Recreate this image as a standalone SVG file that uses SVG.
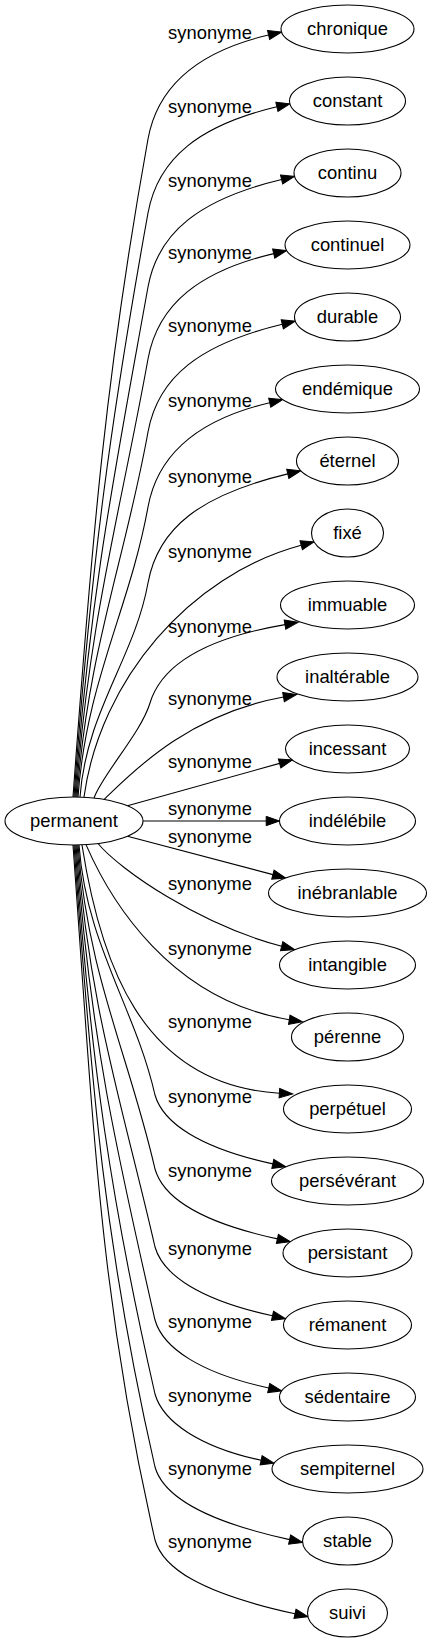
<svg xmlns="http://www.w3.org/2000/svg" width="432" height="1643" viewBox="0 0 432 1643">
<style>
text{font-family:"Liberation Sans",Arial,sans-serif;font-size:18.4px;fill:#000;text-anchor:middle}
.node ellipse{fill:#fff;stroke:#000;stroke-width:1.1}
.edge path{fill:none;stroke:#000;stroke-width:1.1;marker-end:url(#arrow)}
</style>
<defs>
<marker id="arrow" viewBox="0 -5 14 10" refX="0" refY="0" markerWidth="14" markerHeight="10" markerUnits="userSpaceOnUse" orient="auto" overflow="visible">
<path d="M0,-4.67 L13.3,0 L0,4.67 Z" fill="#000" stroke="#000" stroke-width="1"/>
</marker>
</defs>
<rect x="0" y="0" width="432" height="1643" fill="#fff"/>
<g id="edges">
<g class="edge" id="e-chronique"><path d="M73,797 C92.1,533.8 106.5,369.3 148,139 C158,84 200,51 268.6,35"/><text x="210" y="39">synonyme</text></g>
<g class="edge" id="e-constant"><path d="M74,797 C90.9,563.4 111.2,417.4 148,213 C158,158 200,125 276.9,106.8"/><text x="210" y="113">synonyme</text></g>
<g class="edge" id="e-continu"><path d="M75,797 C89.8,593 115.9,465.5 148,287 C158,232 200,199 281.6,179.5"/><text x="210" y="187">synonyme</text></g>
<g class="edge" id="e-continuel"><path d="M76,797 C88.7,621.8 120.4,512.3 148,359 C158,304 200,271 273.7,253.6"/><text x="210" y="259">synonyme</text></g>
<g class="edge" id="e-durable"><path d="M77,797 C87.6,651 125,559.8 148,432 C158,377 200,344 282.3,324.3"/><text x="210" y="332">synonyme</text></g>
<g class="edge" id="e-endemique"><path d="M78,797 C86.4,681 129.7,608.5 148,507 C158,452 200,419 269.7,402.7"/><text x="210" y="407">synonyme</text></g>
<g class="edge" id="e-eternel"><path d="M80,797 C86.2,711.4 134.5,657.9 148,583 C158,528 200,495 287.8,473.9"/><text x="210" y="483">synonyme</text></g>
<g class="edge" id="e-fixe"><path d="M84,797 C100,680 190,575 301.2,545.3"/><text x="210" y="558">synonyme</text></g>
<g class="edge" id="e-immuable"><path d="M94,798 C102,775 141,733 150,703 C160,670 195,640 285,624.6"/><text x="210" y="633">synonyme</text></g>
<g class="edge" id="e-inalterable"><path d="M104,799.4 C130,775 185,715 283.5,697"/><text x="210" y="705">synonyme</text></g>
<g class="edge" id="e-incessant"><path d="M127.5,805.8 L279.6,763.4"/><text x="210" y="768">synonyme</text></g>
<g class="edge" id="e-indelebile"><path d="M143,821 L266.2,821"/><text x="210" y="815">synonyme</text></g>
<g class="edge" id="e-inebranlable"><path d="M127.5,836.2 L272.9,874.6"/><text x="210" y="843">synonyme</text></g>
<g class="edge" id="e-intangible"><path d="M98,843.5 C120,870 200,925 281.7,946.2"/><text x="210" y="890">synonyme</text></g>
<g class="edge" id="e-perenne"><path d="M86,844.6 C110,900 170,1000 289.3,1019.7"/><text x="210" y="955">synonyme</text></g>
<g class="edge" id="e-perpetuel"><path d="M82,845 C100,960 140,1085 279.4,1093.2"/><text x="210" y="1028">synonyme</text></g>
<g class="edge" id="e-perseverant"><path d="M79,845 C86.3,945 135,1007.5 155,1095 C163,1123 200,1148 272.8,1163.9"/><text x="210" y="1103">synonyme</text></g>
<g class="edge" id="e-persistant"><path d="M78,845 C87.4,974.6 129.1,1055.6 155,1169 C163,1197 200,1222 277.4,1238.9"/><text x="210" y="1177">synonyme</text></g>
<g class="edge" id="e-remanent"><path d="M77,845 C88.7,1005.8 122.8,1106.3 155,1247 C163,1275 200,1300 272.5,1315.8"/><text x="210" y="1255">synonyme</text></g>
<g class="edge" id="e-sedentaire"><path d="M76,845 C89.8,1035 117,1153.75 155,1320 C163,1348 200,1373 268.7,1388"/><text x="210" y="1328">synonyme</text></g>
<g class="edge" id="e-sempiternel"><path d="M75,845 C90.9,1064.6 111.1,1201.85 155,1394 C163,1422 200,1447 261.1,1460.3"/><text x="210" y="1402">synonyme</text></g>
<g class="edge" id="e-stable"><path d="M74,845 C92,1093.8 105.2,1249.3 155,1467 C163,1495 200,1520 289.6,1539.6"/><text x="210" y="1475">synonyme</text></g>
<g class="edge" id="e-suivi"><path d="M73,845 C93.2,1123 99.4,1296.75 155,1540 C163,1568 200,1593 295,1613.8"/><text x="210" y="1548">synonyme</text></g>
</g>
<g class="node" id="n-permanent"><ellipse cx="74" cy="821" rx="69" ry="24"/><text x="74" y="826.5">permanent</text></g>
<g class="node" id="n-chronique"><ellipse cx="347.5" cy="29" rx="66.5" ry="24"/><text x="347.5" y="34.5">chronique</text></g>
<g class="node" id="n-constant"><ellipse cx="347.5" cy="101" rx="58" ry="24"/><text x="347.5" y="106.5">constant</text></g>
<g class="node" id="n-continu"><ellipse cx="347.5" cy="173" rx="53.5" ry="24"/><text x="347.5" y="178.5">continu</text></g>
<g class="node" id="n-continuel"><ellipse cx="347.5" cy="245" rx="62.5" ry="24"/><text x="347.5" y="250.5">continuel</text></g>
<g class="node" id="n-durable"><ellipse cx="347.5" cy="317" rx="53" ry="24"/><text x="347.5" y="322.5">durable</text></g>
<g class="node" id="n-endemique"><ellipse cx="347.5" cy="389" rx="72" ry="24"/><text x="347.5" y="394.5">endémique</text></g>
<g class="node" id="n-eternel"><ellipse cx="347.5" cy="461" rx="51" ry="24"/><text x="347.5" y="466.5">éternel</text></g>
<g class="node" id="n-fixe"><ellipse cx="347.5" cy="533" rx="36" ry="24"/><text x="347.5" y="538.5">fixé</text></g>
<g class="node" id="n-immuable"><ellipse cx="347.5" cy="605" rx="67" ry="24"/><text x="347.5" y="610.5">immuable</text></g>
<g class="node" id="n-inalterable"><ellipse cx="347.5" cy="677" rx="70.5" ry="24"/><text x="347.5" y="682.5">inaltérable</text></g>
<g class="node" id="n-incessant"><ellipse cx="347.5" cy="749" rx="62" ry="24"/><text x="347.5" y="754.5">incessant</text></g>
<g class="node" id="n-indelebile"><ellipse cx="347.5" cy="821" rx="68" ry="24"/><text x="347.5" y="826.5">indélébile</text></g>
<g class="node" id="n-inebranlable"><ellipse cx="347.5" cy="893" rx="79" ry="24"/><text x="347.5" y="898.5">inébranlable</text></g>
<g class="node" id="n-intangible"><ellipse cx="347.5" cy="965" rx="68" ry="24"/><text x="347.5" y="970.5">intangible</text></g>
<g class="node" id="n-perenne"><ellipse cx="347.5" cy="1037" rx="56" ry="24"/><text x="347.5" y="1042.5">pérenne</text></g>
<g class="node" id="n-perpetuel"><ellipse cx="347.5" cy="1109" rx="64" ry="24"/><text x="347.5" y="1114.5">perpétuel</text></g>
<g class="node" id="n-perseverant"><ellipse cx="347.5" cy="1181" rx="76" ry="24"/><text x="347.5" y="1186.5">persévérant</text></g>
<g class="node" id="n-persistant"><ellipse cx="347.5" cy="1253" rx="64.5" ry="24"/><text x="347.5" y="1258.5">persistant</text></g>
<g class="node" id="n-remanent"><ellipse cx="347.5" cy="1325" rx="64" ry="24"/><text x="347.5" y="1330.5">rémanent</text></g>
<g class="node" id="n-sedentaire"><ellipse cx="347.5" cy="1397" rx="68" ry="24"/><text x="347.5" y="1402.5">sédentaire</text></g>
<g class="node" id="n-sempiternel"><ellipse cx="347.5" cy="1469" rx="75.5" ry="24"/><text x="347.5" y="1474.5">sempiternel</text></g>
<g class="node" id="n-stable"><ellipse cx="347.5" cy="1541" rx="45" ry="24"/><text x="347.5" y="1546.5">stable</text></g>
<g class="node" id="n-suivi"><ellipse cx="347.5" cy="1613" rx="40" ry="24"/><text x="347.5" y="1618.5">suivi</text></g>
</svg>
